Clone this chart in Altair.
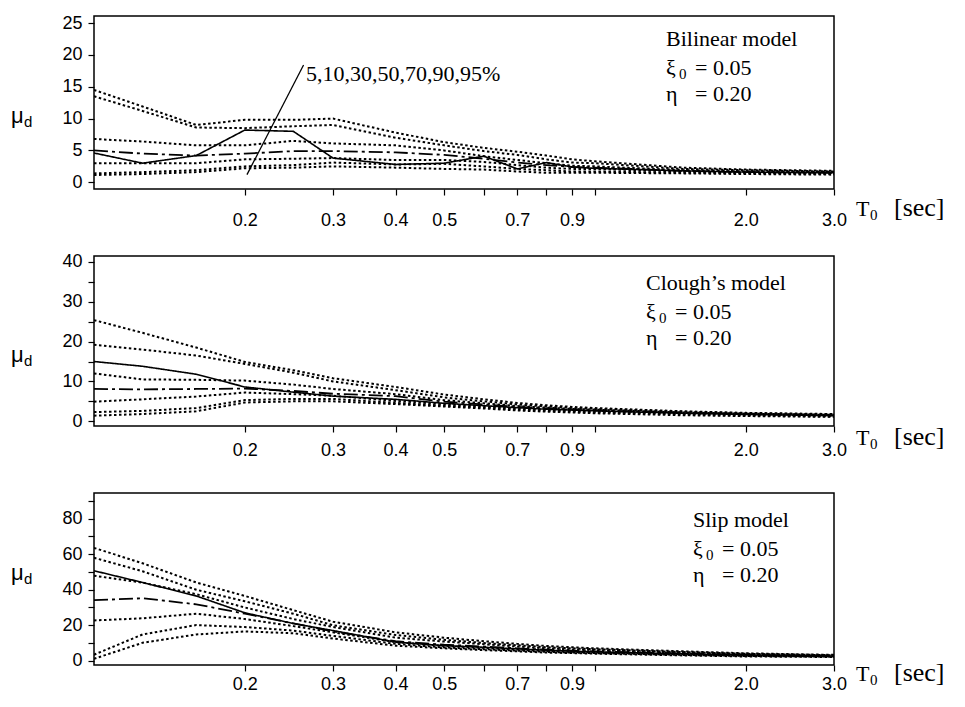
import altair as alt
import pandas as pd

# Natural period T0 [sec] at which the curves were read
T = [0.1, 0.125, 0.16, 0.2, 0.25, 0.3, 0.4, 0.5, 0.6, 0.7, 0.8, 0.9, 1.0, 1.5, 2.0, 3.0]

SERIES = ["5%", "10%", "30%", "50%", "70%", "90%", "95%", "mean"]
STYLE = {"5%": "dotted", "10%": "dotted", "30%": "dotted", "50%": "dashdot",
         "70%": "dotted", "90%": "dotted", "95%": "dotted", "mean": "solid"}

# ---- Bilinear model ----
bil_95 = [14.5, 11.9, 9.0, 9.8, 9.8, 10.0, 7.8, 6.3, 5.4, 4.8, 4.2, 3.6, 3.3, 2.3, 2.0, 1.8]
bil_90 = [13.5, 11.2, 8.6, 8.5, 8.8, 9.0, 7.0, 5.8, 4.9, 4.3, 3.6, 3.1, 3.0, 2.1, 1.9, 1.7]
bil_70 = [6.8, 6.4, 5.8, 5.8, 6.5, 6.1, 5.8, 5.0, 4.1, 3.5, 3.0, 2.6, 2.5, 1.9, 1.7, 1.6]
bil_50 = [5.0, 4.5, 4.2, 4.5, 4.9, 4.9, 4.7, 4.3, 3.7, 3.1, 2.7, 2.4, 2.3, 1.8, 1.6, 1.5]
bil_30 = [3.0, 3.0, 3.0, 3.6, 3.7, 3.8, 3.5, 3.5, 3.2, 2.7, 2.3, 2.1, 2.1, 1.7, 1.5, 1.4]
bil_10 = [1.4, 1.6, 1.9, 2.5, 2.7, 3.1, 2.8, 2.9, 2.5, 2.1, 1.9, 1.7, 1.7, 1.5, 1.4, 1.3]
bil_05 = [1.15, 1.3, 1.6, 2.2, 2.3, 2.5, 2.3, 2.1, 2.0, 1.7, 1.5, 1.5, 1.5, 1.4, 1.3, 1.2]
bil_mean = [4.6, 3.0, 4.2, 8.2, 8.0, 3.8, 2.8, 3.0, 4.1, 2.1, 3.1, 2.4, 2.2, 1.8, 1.6, 1.5]

# ---- Clough's model ----
clo_95 = [25.4, 22.2, 18.5, 14.9, 12.8, 10.8, 8.6, 6.7, 5.5, 4.6, 4.0, 3.6, 3.3, 2.5, 2.1, 1.8]
clo_90 = [19.2, 18.0, 16.5, 14.4, 12.2, 10.0, 7.8, 6.0, 5.0, 4.2, 3.7, 3.3, 3.1, 2.4, 2.0, 1.7]
clo_70 = [12.0, 10.5, 10.4, 10.2, 9.2, 8.1, 6.8, 5.3, 4.5, 3.8, 3.4, 3.1, 2.9, 2.2, 1.9, 1.6]
clo_50 = [8.1, 8.0, 8.1, 8.2, 7.6, 6.9, 6.3, 4.9, 4.2, 3.6, 3.2, 2.9, 2.7, 2.1, 1.8, 1.5]
clo_30 = [4.9, 5.5, 6.2, 7.2, 6.8, 6.4, 5.1, 4.3, 3.7, 3.2, 2.9, 2.6, 2.4, 1.9, 1.6, 1.3]
clo_10 = [2.3, 2.6, 3.3, 5.3, 5.6, 5.6, 4.6, 3.9, 3.4, 2.9, 2.6, 2.4, 2.2, 1.7, 1.4, 1.2]
clo_05 = [1.4, 1.8, 2.5, 4.7, 5.0, 5.0, 4.3, 3.7, 3.2, 2.7, 2.4, 2.2, 2.0, 1.5, 1.3, 1.1]
clo_mean = [15.0, 13.8, 11.8, 8.6, 7.3, 6.3, 5.5, 4.5, 3.9, 3.4, 3.0, 2.8, 2.6, 2.0, 1.7, 1.4]

# ---- Slip model ----
slp_95 = [63.6, 54.9, 44.1, 36.5, 28.5, 22.0, 16.0, 13.0, 11.0, 9.5, 8.3, 7.6, 7.0, 5.3, 4.2, 3.3]
slp_90 = [58.0, 50.4, 40.0, 33.5, 26.5, 20.0, 14.5, 11.8, 10.0, 8.7, 7.6, 7.0, 6.5, 4.9, 3.9, 3.1]
slp_70 = [47.9, 44.0, 37.5, 30.0, 23.5, 19.0, 13.0, 10.8, 9.3, 8.0, 7.0, 6.4, 6.0, 4.6, 3.7, 2.9]
slp_50 = [34.1, 35.2, 31.8, 26.5, 21.0, 16.5, 11.0, 9.0, 8.0, 7.0, 6.2, 5.7, 5.3, 4.1, 3.3, 2.7]
slp_30 = [22.7, 23.9, 26.5, 23.5, 19.5, 16.0, 10.5, 8.3, 7.2, 6.3, 5.5, 5.0, 4.7, 3.7, 3.0, 2.5]
slp_10 = [3.4, 14.8, 20.1, 19.0, 17.0, 14.0, 9.5, 7.5, 6.5, 5.7, 5.0, 4.6, 4.3, 3.3, 2.7, 2.3]
slp_05 = [1.1, 10.1, 14.8, 16.5, 15.5, 12.5, 8.5, 7.0, 6.0, 5.3, 4.6, 4.3, 4.0, 3.0, 2.4, 2.1]
slp_mean = [50.7, 44.1, 36.5, 27.0, 21.0, 17.0, 10.5, 8.5, 7.6, 6.7, 5.9, 5.4, 5.0, 3.9, 3.2, 2.6]

X_TICKS = [0.2, 0.3, 0.4, 0.5, 0.6, 0.7, 0.8, 0.9, 1.0, 2.0, 3.0]
X_LABELED = [0.2, 0.3, 0.4, 0.5, 0.7, 0.9, 2.0, 3.0]

# leader line of the percentile note in the first panel (data coordinates)
LEADER_T = [0.202, 0.262]
LEADER_MU = [1.2, 18.4]

SANS = "Liberation Sans"
SERIF = "Liberation Serif"
W = 740


def make_df(cols):
    rows = []
    for name, vals in cols.items():
        for t, v in zip(T, vals):
            rows.append({"T": t, "mu": v, "series": name, "style": STYLE[name]})
    return pd.DataFrame(rows)


def txt(s, x, y, size, font=SERIF):
    return alt.Chart(pd.DataFrame({"t": [s]})).mark_text(
        align="left", baseline="alphabetic", font=font, fontSize=size, color="black"
    ).encode(x=alt.value(x), y=alt.value(y), text="t:N")


def panel(cols, ydom, yvals, ylab_step, height, xlabpad, model, tx, ty, mu_y, t_y, leader=False):
    df = make_df(cols)
    labelled = ",".join(str(v) for v in X_LABELED)
    xenc = alt.X(
        "T:Q",
        scale=alt.Scale(type="log", domain=[0.1, 3.0], nice=False),
        axis=alt.Axis(values=X_TICKS, title=None, grid=False, domain=False,
                      tickSize=6, tickColor="black", tickWidth=1.2,
                      labelExpr=f"indexof([{labelled}], datum.value) >= 0 ? format(datum.value, '.1f') : ''",
                      labelFont=SANS, labelFontSize=18, labelColor="black",
                      labelPadding=xlabpad, labelFlush=False, labelOverlap=False,
                      labelBound=False),
    )
    yenc = alt.Y(
        "mu:Q",
        scale=alt.Scale(domain=ydom, nice=False, zero=False),
        axis=alt.Axis(values=yvals, title=None, grid=False, domain=False,
                      tickSize=6, tickColor="black", tickWidth=1.2,
                      labelExpr=f"datum.value % {ylab_step} == 0 ? datum.label : ''",
                      labelFont=SANS, labelFontSize=18, labelColor="black",
                      labelPadding=6, labelOverlap=False, labelBound=False),
    )
    lines = alt.Chart(df).mark_line(clip=True, color="black").encode(
        x=xenc, y=yenc, detail="series:N",
        strokeDash=alt.StrokeDash("style:N", scale=alt.Scale(
            domain=["dotted", "dashdot", "solid"],
            range=[[2.5, 2.5], [14, 4, 3, 4], [1, 0]]), legend=None),
        strokeWidth=alt.StrokeWidth("style:N", scale=alt.Scale(
            domain=["dotted", "dashdot", "solid"], range=[2.0, 1.6, 1.6]), legend=None),
    )
    layers = [lines]
    if leader:
        ldf = pd.DataFrame({"T": [LEADER_T[0]], "mu": [LEADER_MU[0]],
                            "T2": [LEADER_T[1]], "mu2": [LEADER_MU[1]]})
        layers.append(alt.Chart(ldf).mark_rule(color="black", strokeWidth=1.3).encode(
            x=xenc, y=yenc, x2="T2:Q", y2="mu2:Q"))
        layers.append(txt("5,10,30,50,70,90,95%", 212, 65, 22))
    # model notes
    layers += [
        txt(model, tx, ty, 22),
        txt("ξ", tx, ty + 29, 22),
        txt("0", tx + 13, ty + 33, 15),
        txt("= 0.05", tx + 29, ty + 29, 22),
        txt("η", tx, ty + 55, 22),
        txt("= 0.20", tx + 29, ty + 55, 22),
    ]
    # axis titles
    layers += [
        txt("μ", -83, mu_y, 22, SANS),
        txt("d", -70, mu_y + 4, 15, SANS),
        txt("T", 762, t_y, 22),
        txt("0", 776, t_y + 4, 15),
        txt("[sec]", 800, t_y, 26),
    ]
    return alt.layer(*layers).properties(width=W, height=height)


p1 = panel({"5%": bil_05, "10%": bil_10, "30%": bil_30, "50%": bil_50, "70%": bil_70,
            "90%": bil_90, "95%": bil_95, "mean": bil_mean},
           [-1.05, 26.1], [0, 5, 10, 15, 20, 25], 5, 173, 16,
           "Bilinear model", 572, 30, 107, 200, leader=True)
p2 = panel({"5%": clo_05, "10%": clo_10, "30%": clo_30, "50%": clo_50, "70%": clo_70,
            "90%": clo_90, "95%": clo_95, "mean": clo_mean},
           [-1.2, 41.5], [0, 5, 10, 15, 20, 25, 30, 35, 40], 10, 170, 9,
           "Clough\u2019s model", 552, 34, 106, 189)
p3 = panel({"5%": slp_05, "10%": slp_10, "30%": slp_30, "50%": slp_50, "70%": slp_70,
            "90%": slp_90, "95%": slp_95, "mean": slp_mean},
           [-2.4, 94.5], [0, 10, 20, 30, 40, 50, 60, 70, 80, 90], 20, 172, 4,
           "Slip model", 599, 34, 87, 188)

chart = alt.vconcat(alt.vconcat(p1, p2, spacing=22), p3, spacing=31).properties(
    padding={"left": 2, "top": 5, "right": 0, "bottom": 0},
    background="white",
).configure_view(stroke="black", strokeWidth=1.5)

chart.save("out.html", embed_options={"renderer": "svg", "actions": False})
